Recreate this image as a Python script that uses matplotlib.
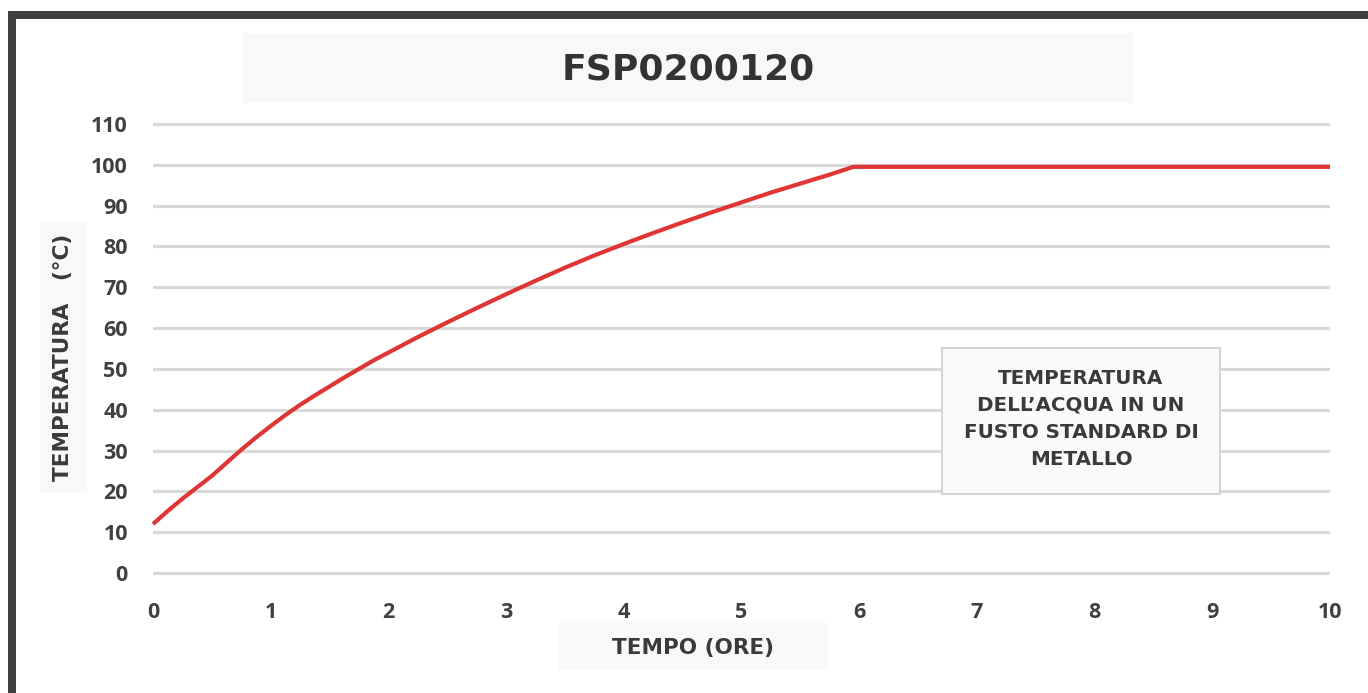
import matplotlib.pyplot as plt
from matplotlib.patches import Rectangle

# temperature of water in a standard metal drum
hours = [0, 0.125, 0.25, 0.375, 0.5, 0.625, 0.75, 0.875, 1, 1.125, 1.25,
         1.375, 1.5, 1.625, 1.75, 1.875, 2, 2.25, 2.5, 2.75, 3, 3.25, 3.5,
         3.75, 4, 4.25, 4.5, 4.75, 5, 5.25, 5.5, 5.75, 5.95,
         6, 7, 8, 9, 10]
temp_c = [12, 15.2, 18.2, 21, 23.8, 27, 30.2, 33.2, 36, 38.7, 41.2,
          43.5, 45.7, 47.9, 50, 52.1, 54, 57.8, 61.4, 64.9, 68.3, 71.6, 74.8,
          77.8, 80.6, 83.3, 85.9, 88.4, 90.8, 93.2, 95.4, 97.6, 99.5,
          99.5, 99.5, 99.5, 99.5, 99.5]

x_ticks = list(range(0, 11))
y_ticks = list(range(0, 111, 10))

title = "FSP0200120"
x_label = "TEMPO (ORE)"
y_label = "TEMPERATURA   (°C)"
note = "TEMPERATURA\nDELL\u2019ACQUA IN UN\nFUSTO STANDARD DI\nMETALLO"

W, H = 1368, 693
fig = plt.figure(figsize=(W / 100, H / 100), dpi=100)


def box(x0, y0, x1, y1, **kw):
    # pixel coords (top-left origin) -> figure fraction
    r = Rectangle((x0 / W, 1 - y1 / H), (x1 - x0) / W, (y1 - y0) / H,
                  transform=fig.transFigure, **kw)
    fig.patches.append(r)


# outer dark frame (top and left)
box(8, 11, W, 19, facecolor="#404040", edgecolor="none")
box(8, 11, 16, H, facecolor="#404040", edgecolor="none")

# light label backgrounds
box(243, 33, 1133, 103, facecolor="#f8f8f8", edgecolor="none")
box(40, 222, 87, 493, facecolor="#f8f8f8", edgecolor="none")
box(558, 623, 828, 670, facecolor="#f9f9f9", edgecolor="none")

left, right = 153 / W, 1330 / W
y_top = 124 - 4.1
y_bot = 573 + 4.1
ax = fig.add_axes([left, 1 - y_bot / H, right - left, (y_bot - y_top) / H])
ax.set_xlim(0, 10)
ax.set_ylim(-1, 111)
ax.set_xticks(x_ticks)
ax.set_yticks(y_ticks)
ax.grid(axis="y", color="#d9d9d9", linewidth=2.2)
ax.set_axisbelow(True)
for s in ax.spines.values():
    s.set_visible(False)
ax.tick_params(length=0, pad=18, colors="#404040")
for lab in ax.get_xticklabels() + ax.get_yticklabels():
    lab.set_fontfamily(["Open Sans", "DejaVu Sans"])
    lab.set_fontweight("bold")
    lab.set_fontsize(15.5)

ax.plot(hours, temp_c, color="#e03535", linewidth=3, clip_on=False,
        solid_capstyle="butt", solid_joinstyle="round", zorder=3)

fig.text(688 / W, 1 - 69 / H, title, ha="center", va="center",
         fontsize=26, fontweight="bold", color="#333333")
fig.text(693 / W, 1 - 648 / H, x_label, ha="center", va="center",
         fontsize=15.5, fontweight="bold", color="#3a3a3a")
fig.text(63 / W, 1 - 357 / H, y_label, ha="center", va="center",
         rotation=90, fontsize=15.5, fontweight="bold", color="#3a3a3a")

# annotation box
box(942, 348, 1220, 494, facecolor="#fafafa", edgecolor="#d4d4d4",
    linewidth=1.5, zorder=4)
fig.text(1081 / W, 1 - 419 / H, note, ha="center", va="center",
         fontsize=14.3, fontweight="bold", color="#3a3a3a",
         linespacing=1.55, zorder=5)

fig.savefig("out.png", dpi=100, facecolor="white")
